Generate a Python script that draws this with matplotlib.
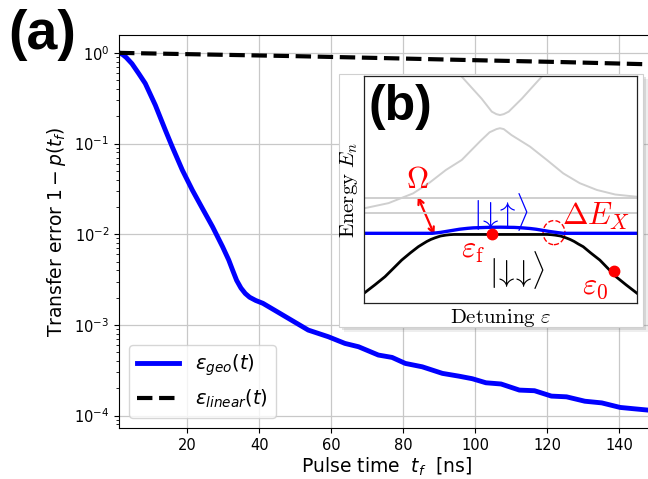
import matplotlib
matplotlib.use("Agg")
import matplotlib.pyplot as plt
from matplotlib.patches import Rectangle, Ellipse, FancyArrowPatch

# ---------------- main panel data ----------------
t_geo = [1, 2, 3, 4.6, 6.5, 8.3, 11.1, 13.9, 15.8, 18.6, 21.4, 24.2, 27.0, 29.8,
         31.5, 32.6, 33.7, 34.9, 36.1, 37.3, 39.0, 41.0, 45.2, 48.9, 53.6, 59.2,
         63.8, 67.6, 73.1, 76.9, 80.6, 85.3, 90.9, 95.5, 99.2, 103.0, 107.2, 112.3,
         116.5, 121.2, 125.4, 130.5, 135.2, 140.3, 144.0, 150.0]
err_geo = [1.0, 0.96, 0.89, 0.76, 0.59, 0.46, 0.265, 0.14, 0.092, 0.051, 0.0306,
           0.0192, 0.0121, 0.00727, 0.0052, 0.0040, 0.0031, 0.00255, 0.00222,
           0.00202, 0.00186, 0.00173, 0.00138, 0.00113, 0.000877, 0.00074,
           0.000625, 0.000574, 0.000465, 0.000438, 0.000376, 0.000345, 0.000292,
           0.000272, 0.000255, 0.00023, 0.000223, 0.000191, 0.000188, 0.000164,
           0.000161, 0.000144, 0.000138, 0.000123, 0.000119, 0.000113]
t_lin = [1, 25, 50, 75, 100, 125, 150]
err_lin = [1.0, 0.96, 0.92, 0.875, 0.83, 0.79, 0.745]
x_ticks = [20, 40, 60, 80, 100, 120, 140]

# ---------------- inset (b) schematic data (axes units 0..1) ----------------
black_u = [0.00, 0.04, 0.077, 0.108, 0.138, 0.17, 0.199, 0.215, 0.23, 0.245, 0.26,
           0.27, 0.28, 0.29, 0.30, 0.315, 0.33, 0.36, 0.50, 0.64, 0.67, 0.685, 0.70,
           0.71, 0.72, 0.73, 0.74, 0.755, 0.77, 0.785, 0.803, 0.83, 0.864, 0.893,
           0.923, 0.96, 1.00]
black_v = [0.043, 0.08, 0.116, 0.153, 0.189, 0.221, 0.248, 0.26, 0.271, 0.28, 0.287,
           0.291, 0.295, 0.297, 0.299, 0.301, 0.302, 0.302, 0.302, 0.302, 0.302,
           0.301, 0.299, 0.297, 0.295, 0.291, 0.287, 0.28, 0.271, 0.26, 0.248, 0.221,
           0.189, 0.153, 0.116, 0.08, 0.043]
blue_u = [0.0, 0.25, 0.28, 0.30, 0.33, 0.35, 0.38, 0.40, 0.45, 0.50, 0.55, 0.58, 0.61,
          0.63, 0.66, 0.68, 0.71, 0.73, 1.0]
blue_v = [0.307, 0.307, 0.311, 0.315, 0.321, 0.325, 0.329, 0.331, 0.333, 0.334, 0.333,
          0.331, 0.328, 0.325, 0.319, 0.315, 0.310, 0.307, 0.307]
up_u = [0.35, 0.358, 0.431, 0.468, 0.485, 0.498, 0.512, 0.53, 0.578, 0.651, 0.66]
up_v = [1.01, 0.997, 0.90, 0.843, 0.832, 0.828, 0.832, 0.843, 0.90, 0.997, 1.01]
low_u = [0.0, 0.09, 0.18, 0.24, 0.30, 0.358, 0.425, 0.46, 0.485, 0.498, 0.512, 0.54,
         0.608, 0.67, 0.73, 0.79, 0.853, 0.92, 1.0]
low_v = [0.417, 0.44, 0.483, 0.53, 0.586, 0.63, 0.712, 0.752, 0.766, 0.77, 0.766, 0.74,
         0.689, 0.63, 0.571, 0.528, 0.498, 0.478, 0.468]
flat_levels = [0.463, 0.397]
dot_u = [0.47, 0.917]
dot_v = [0.305, 0.141]

W, H = 648, 479
fig = plt.figure(figsize=(W / 100, H / 100), dpi=100)

# main axes (right edge lies just outside the picture, as in the reference)
ax = fig.add_axes([119 / W, 1 - 428 / H, (655 - 119) / W, (428 - 35) / H])
ax.semilogy(t_geo, err_geo, color="#0000ff", lw=3.5, label=r"$\varepsilon_{geo}(t)$")
ax.semilogy(t_lin, err_lin, "k--", lw=3, label=r"$\varepsilon_{linear}(t)$")
ax.set_xlim(1, 150)
ax.set_ylim(10 ** -4.137, 10 ** 0.197)
ax.set_xticks(x_ticks)
ax.grid(True, which="major", color="#c8c8c8", lw=0.9)
ax.tick_params(labelsize=10.5)
ax.set_xlabel(r"Pulse time  $t_f$  [ns]", fontsize=13.5, labelpad=2)
ax.set_ylabel(r"Transfer error $1-p(t_f)$", fontsize=13.5)
ax.legend(loc="lower left", fontsize=14, handlelength=2.2)

fig.text(42 / W, 1 - 35 / H, "(a)", fontsize=40, fontweight="bold",
         family="Liberation Sans", ha="center", va="center")

# inset frame with shadow
fx0, fy0, fx1, fy1 = 339, 74, 643, 327
for off, a in [(5, 0.12), (3, 0.2)]:
    fig.add_artist(Rectangle(((fx0 + off) / W, 1 - (fy1 + off) / H), (fx1 - fx0) / W,
                             (fy1 - fy0) / H, transform=fig.transFigure, fc="#777777",
                             ec="none", alpha=a, zorder=1))
fig.add_artist(Rectangle((fx0 / W, 1 - fy1 / H), (fx1 - fx0) / W, (fy1 - fy0) / H,
                         transform=fig.transFigure, fc="white", ec="#d0d0d0", lw=0.8,
                         zorder=1.1))

axi = fig.add_axes([364 / W, 1 - 303 / H, 273 / W, 227 / H], zorder=2)
axi.set_xlim(0, 1)
axi.set_ylim(0, 1)
axi.set_xticks([])
axi.set_yticks([])
for s in axi.spines.values():
    s.set_linewidth(0.9)
    s.set_color("#222222")
gray = "#cfcfcf"
axi.plot(up_u, up_v, color=gray, lw=1.4)
axi.plot(low_u, low_v, color=gray, lw=1.4)
for lv in flat_levels:
    axi.axhline(lv, color=gray, lw=1.4)
axi.plot(black_u, black_v, color="black", lw=2.0)
axi.plot(blue_u, blue_v, color="#0000ff", lw=2.4)
axi.plot(dot_u, dot_v, "o", color="red", ms=7.5, zorder=5)
axi.add_patch(Ellipse((0.696, 0.31), 0.08, 0.106, fill=False, ec="red", ls="--", lw=1.0))
axi.add_patch(FancyArrowPatch((0.193, 0.48), (0.262, 0.289), arrowstyle="<->",
                              mutation_scale=10, color="red", lw=1.6))
cm = dict(math_fontfamily="cm", ha="center", va="center")
axi.text(0.195, 0.545, r"$\Omega$", color="red", fontsize=22, **cm)
axi.text(0.50, 0.40, r"$|\!{\downarrow}\!\!{\uparrow}\!\rangle$", color="#0000ff",
         fontsize=22, **cm)
axi.text(0.852, 0.38, r"$\Delta E_X$", color="red", fontsize=22, **cm)
axi.text(0.40, 0.233, r"$\varepsilon_\mathrm{f}$", color="red", fontsize=22, **cm)
axi.text(0.56, 0.145, r"$|\!{\downarrow}\!\!{\downarrow}\!\rangle$", color="black",
         fontsize=22, **cm)
axi.text(0.846, 0.072, r"$\varepsilon_0$", color="red", fontsize=22, **cm)
axi.text(0.132, 0.865, "(b)", fontsize=36, fontweight="bold", family="Liberation Sans",
         ha="center", va="center")
axi.set_xlabel(r"$\mathrm{Detuning}\ \varepsilon$", fontsize=15, math_fontfamily="cm",
               labelpad=3)
axi.set_ylabel(r"$\mathrm{Energy}\ E_n$", fontsize=15, math_fontfamily="cm", labelpad=3)

fig.savefig("out.png", dpi=100)
